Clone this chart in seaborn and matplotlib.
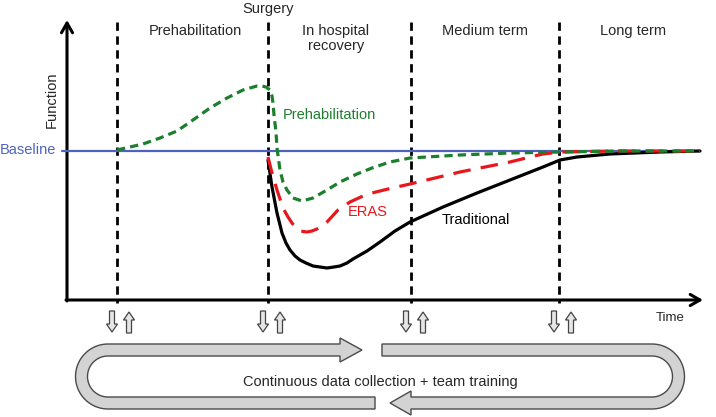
import numpy as np
import matplotlib
matplotlib.use("Agg")
import matplotlib.pyplot as plt
import seaborn as sns
from matplotlib.path import Path
from matplotlib.patches import PathPatch, FancyArrow

sns.set_style("white")
plt.rcParams['font.family'] = ['Liberation Sans', 'DejaVu Sans']

# phases (time positions of the dashed boundaries) and labels
phase_x = [117, 268, 411, 559]
phase_labels = ["Prehabilitation", "In hospital\nrecovery", "Medium term", "Long term"]
phase_label_x = [195, 336, 485, 633]
baseline = 151

# function curves (time, function in picture units)
prehab_t = [117, 130, 143, 160, 177, 193, 210, 227, 243, 250, 257, 262, 266, 270, 272,
            273, 274, 276, 277, 280, 283, 287, 293, 302, 313, 327, 340, 357, 372, 390,
            410, 460, 510, 560, 620, 700]
prehab_f = [150, 147, 144, 138, 131, 120, 108, 98, 90, 88, 86, 86, 87, 90, 96,
            103, 115, 132, 148, 170, 182, 190, 198, 201, 198, 190, 182, 174, 168, 162,
            158, 155, 153, 152, 151, 151]

eras_t = [268, 272, 277, 283, 288, 292, 296, 300, 307, 312, 317, 322, 327, 338, 350,
          363, 372, 388, 410, 435, 460, 485, 510, 530, 543, 560, 620, 700]
eras_f = [157, 173, 190, 208, 217, 223, 228, 231, 232, 231, 229, 226, 222, 210, 202,
          196, 193, 189, 184, 178, 172, 167, 162, 157, 154, 152, 151, 151]

trad_t = [268, 272, 277, 282, 286, 290, 295, 300, 306, 313, 320, 327, 334, 340, 347,
          353, 367, 380, 395, 410, 443, 477, 510, 543, 560, 577, 610, 660, 700]
trad_f = [160, 187, 213, 233, 243, 250, 256, 260, 263, 266, 267, 268, 267, 266, 263,
          259, 251, 242, 231, 222, 207, 193, 180, 167, 160, 157, 154, 152, 151]

fig = plt.figure(figsize=(7.16, 4.17), dpi=100)
ax = fig.add_axes([0, 0, 1, 1])
ax.set_xlim(0, 716)
ax.set_ylim(417, 0)
ax.axis('off')

# phase boundaries
for x in phase_x:
    ax.plot([x, x], [22, 303], color='black', lw=2.0, ls=(0, (3, 2)), zorder=2)

# axes arrows
arrow_kw = dict(arrowstyle='->,head_length=0.7,head_width=0.4', lw=2.2, color='black',
                shrinkA=0, shrinkB=0)
ax.annotate('', xy=(67, 20), xytext=(67, 301), arrowprops=arrow_kw, zorder=3)
ax.annotate('', xy=(703, 300), xytext=(66, 300), arrowprops=arrow_kw, zorder=3)

# baseline
ax.plot([62, 700], [baseline, baseline], color='#4F63BE', lw=1.6, zorder=3)

sns.lineplot(x=trad_t, y=trad_f, ax=ax, color='black', lw=2.3, sort=False,
             estimator=None, zorder=4)
sns.lineplot(x=eras_t, y=eras_f, ax=ax, color='#E8171C', lw=2.3, sort=False,
             estimator=None, zorder=5, linestyle=(0, (5.5, 3.2)))
sns.lineplot(x=prehab_t, y=prehab_f, ax=ax, color='#1D7F2E', lw=2.3, sort=False,
             estimator=None, zorder=6, linestyle=(0, (2.6, 1.6)))

# texts
fs = 10.5
ax.text(268, 9, "Surgery", ha='center', va='center', fontsize=fs)
for lx, lab in zip(phase_label_x, phase_labels):
    ax.text(lx, 24, lab, ha='center', va='top', fontsize=fs, linespacing=1.1)
ax.text(52, 100, "Function", rotation=90, ha='center', va='center', fontsize=fs)
ax.text(28, 150, "Baseline", color='#4F63BE', ha='center', va='center', fontsize=fs)
ax.text(283, 115, "Prehabilitation", color='#1D7F2E', ha='left', va='center', fontsize=fs)
ax.text(368, 212, "ERAS", color='#E8171C', ha='center', va='center', fontsize=fs)
ax.text(476, 220, "Traditional", color='black', ha='center', va='center', fontsize=fs)
ax.text(670, 318, "Time", ha='center', va='center', fontsize=9.5)

# small data-exchange arrows
for x in phase_x:
    ax.add_patch(FancyArrow(x - 5, 311, 0, 21, width=5, head_width=11, head_length=8,
                            length_includes_head=True, fc='#E6E6E6', ec='#444444',
                            lw=0.9, zorder=3))
    ax.add_patch(FancyArrow(x + 12, 333, 0, -21, width=5, head_width=11, head_length=8,
                            length_includes_head=True, fc='#E6E6E6', ec='#444444',
                            lw=0.9, zorder=3))

# loop band
cy = 376.5
ro, ri = 32.5, 20.5
t = np.linspace(0, np.pi, 40)
lcx, rcx = 108, 652

left_outer = np.column_stack([lcx - ro * np.sin(t), cy - ro * np.cos(t)])
left_inner = np.column_stack([lcx - ri * np.sin(t[::-1]), cy - ri * np.cos(t[::-1])])
left_pts = np.vstack([[[340, cy - ro]], left_outer, [[375, cy + ro], [375, cy + ri]],
                      left_inner, [[340, cy - ri], [340, cy - ri + 6], [362, cy - (ro + ri) / 2],
                                   [340, cy - ro - 6], [340, cy - ro]]])
right_outer = np.column_stack([rcx + ro * np.sin(t), cy - ro * np.cos(t)])
right_inner = np.column_stack([rcx + ri * np.sin(t[::-1]), cy - ri * np.cos(t[::-1])])
right_pts = np.vstack([[[382, cy - ro]], right_outer,
                       [[411, cy + ro], [411, cy + ro + 6], [390, cy + (ro + ri) / 2],
                        [411, cy + ri - 6], [411, cy + ri]],
                       right_inner, [[382, cy - ri], [382, cy - ro]]])
for pts in (left_pts, right_pts):
    ax.add_patch(PathPatch(Path(pts, closed=True), fc='#D3D3D3', ec='#4A4A4A', lw=1.0,
                           zorder=3))

ax.text(380, 382, "Continuous data collection + team training", ha='center', va='center',
        fontsize=10.5, family=['Liberation Sans Narrow', 'Liberation Sans'])

fig.savefig('out.png', dpi=100)
